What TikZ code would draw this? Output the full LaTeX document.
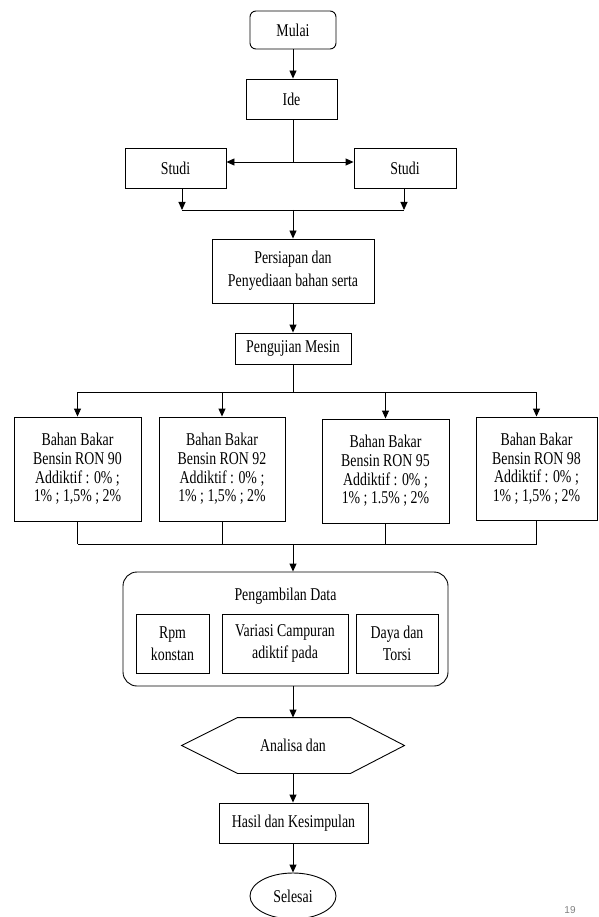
\documentclass[tikz,border=0pt]{standalone}
\usepackage{fontspec}
\setmainfont{Liberation Serif}[FakeStretch=0.77]
\newfontfamily\pnfont{Liberation Sans}
\usetikzlibrary{arrows.meta,shapes.geometric}
\begin{document}
\begin{tikzpicture}[x=1pt,y=-1pt,
  line width=0.9pt,
  every node/.style={font=\fontsize{18}{18.7}\selectfont, inner sep=0pt, align=center},
  box/.style={draw, rectangle},
  arr/.style={-{Triangle[length=8pt,width=7pt]}},
  darr/.style={{Triangle[length=8pt,width=7pt]}-{Triangle[length=8pt,width=7pt]}},
  wide/.style={font=\fontsize{18}{23}\selectfont},
  inner/.style={font=\fontsize{18}{22}\selectfont}
]
\useasboundingbox (0,0) rectangle (598,917);

% nodes
\node[box, rounded corners=6pt, minimum width=86pt, minimum height=38pt] (mulai) at (293,30) {Mulai};
\node[box, minimum width=91pt, minimum height=40pt] (ide) at (291.5,99) {Ide};
\node[box, minimum width=101pt, minimum height=40pt] (studiL) at (175.5,168) {Studi};
\node[box, minimum width=102pt, minimum height=40pt] (studiR) at (405,168) {Studi};
\node[box, wide, minimum width=162pt, minimum height=64pt] (persiapan) at (293,271) {Persiapan dan\\Penyediaan bahan serta};
\node[box, minimum width=116pt, minimum height=31pt] (pengujian) at (293,348.5) {Pengujian Mesin};

\node[box, minimum width=127pt, minimum height=104pt] (b1) at (77.5,469) {Bahan Bakar\\Bensin RON 90\\Addiktif : 0\% ;\\1\% ; 1,5\% ; 2\%};
\node[box, minimum width=126pt, minimum height=104pt] (b2) at (222,469) {Bahan Bakar\\Bensin RON 92\\Addiktif : 0\% ;\\1\% ; 1,5\% ; 2\%};
\node[box, minimum width=127pt, minimum height=104pt] (b3) at (385.5,471) {Bahan Bakar\\Bensin RON 95\\Addiktif : 0\% ;\\1\% ; 1.5\% ; 2\%};
\node[box, minimum width=121pt, minimum height=103pt] (b4) at (536.5,468.5) {Bahan Bakar\\Bensin RON 98\\Addiktif : 0\% ;\\1\% ; 1,5\% ; 2\%};

\node[box, rounded corners=14pt, minimum width=325pt, minimum height=114pt] (data) at (285.5,629) {};
\node (datatitle) at (285.5,596) {Pengambilan Data};
\node[box, inner, minimum width=73pt, minimum height=59pt] (rpm) at (172.5,643.5) {Rpm\\konstan};
\node[box, inner, minimum width=126pt, minimum height=59pt] (variasi) at (285,643.5) {Variasi Campuran\\adiktif pada};
\node[box, inner, minimum width=82pt, minimum height=59pt] (daya) at (397,643.5) {Daya dan\\Torsi};

\node[minimum width=222pt, minimum height=55pt] (analisa) at (293,745.5) {Analisa dan};
\draw (analisa.west) -- ([xshift=56pt]analisa.north west) -- ([xshift=-54pt]analisa.north east)
  -- (analisa.east) -- ([xshift=-54pt]analisa.south east) -- ([xshift=56pt]analisa.south west) -- cycle;

\node[box, minimum width=149pt, minimum height=40pt] (hasil) at (293.5,823) {Hasil dan Kesimpulan};
\node[draw, ellipse, minimum width=86pt, minimum height=46pt] (selesai) at (293,896) {Selesai};

\node[font=\pnfont\fontsize{10}{12}\selectfont, text=gray] (pg) at (570,910) {19};

% connectors
\coordinate (j1) at (293,162);
\coordinate (sL) at (182,210);
\coordinate (sR) at (404,210);
\coordinate (j2) at (293,210);
\coordinate (j3) at (293,392);
\coordinate (j4) at (293,544);

\draw[arr] (mulai.south) -- (mulai.south |- ide.north);
\draw (j1 |- ide.south) -- (j1);
\draw[darr] (studiL.east |- j1) -- (studiR.west |- j1);
\draw[arr] (sL |- studiL.south) -- (sL);
\draw[arr] (sR |- studiR.south) -- (sR);
\draw (sL) -- (sR);
\draw[arr] (j2) -- (j2 |- persiapan.north);
\draw[arr] (persiapan.south) -- (pengujian.north);
\draw (pengujian.south) -- (j3);
\draw (b1.north |- j3) -- (b4.north |- j3);
\foreach \b in {b1,b2,b3,b4}{
  \draw[arr] (\b.north |- j3) -- (\b.north);
  \draw (\b.south) -- (\b.south |- j4);
}
\draw (b1.south |- j4) -- (b4.south |- j4);
\draw[arr] (j4) -- (j4 |- data.north);
\draw[arr] (j4 |- data.south) -- (analisa.north);
\draw[arr] (analisa.south) -- (analisa.south |- hasil.north);
\draw[arr] (analisa.south |- hasil.south) -- (selesai.north);
\end{tikzpicture}
\end{document}
